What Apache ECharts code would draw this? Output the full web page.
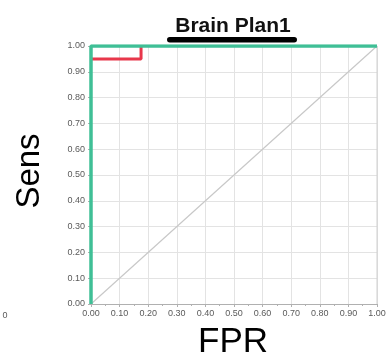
<!DOCTYPE html>
<html><head><meta charset="utf-8">
<script src="https://cdn.jsdelivr.net/npm/echarts@6/dist/echarts.min.js"></script>
<style>html,body{margin:0;padding:0;background:#fff}#c{width:389px;height:360px}</style>
</head><body><div id="c"></div>
<script>
const chartTitle = 'Brain Plan1';
const xName = 'FPR';
const yName = 'Sens';
const greenFPR = [0, 0, 1];
const greenSens = [0, 1, 1];
const redFPR = [0, 0.175, 0.175];
const redSens = [0.95, 0.95, 1];
const diagFPR = [0, 1];
const diagSens = [0, 1];

const pairs = (xs, ys) => xs.map((x, i) => [x, ys[i]]);
const chart = echarts.init(document.getElementById('c'), null, {renderer: 'canvas'});
const font = 'Liberation Sans, Arial, sans-serif';
chart.setOption({
  animation: false,
  grid: {left: 91, right: 12, top: 46, bottom: 56, containLabel: false},
  xAxis: {
    type: 'value', min: 0, max: 1, interval: 0.1,
    axisLine: {show: true, lineStyle: {color: '#b0b0b0', width: 1}},
    axisTick: {show: true, length: 3, lineStyle: {color: '#b0b0b0'}},
    minorTick: {show: true, splitNumber: 2, length: 2, lineStyle: {color: '#b0b0b0'}},
    axisLabel: {fontFamily: font, fontSize: 9, color: '#5a5a5a', margin: 5,
      formatter: v => v.toFixed(2)},
    splitLine: {show: true, lineStyle: {color: '#e3e3e3', width: 1}}
  },
  yAxis: {
    type: 'value', min: 0, max: 1, interval: 0.1,
    axisLine: {show: true, lineStyle: {color: '#b0b0b0', width: 1}},
    axisTick: {show: true, length: 3, lineStyle: {color: '#b0b0b0'}},
    axisLabel: {fontFamily: font, fontSize: 9, color: '#5a5a5a', margin: 6,
      formatter: v => v.toFixed(2)},
    splitLine: {show: true, lineStyle: {color: '#e3e3e3', width: 1}}
  },
  graphic: [
    {type: 'line', shape: {x1: 377, y1: 46, x2: 377, y2: 304}, style: {stroke: '#d0d0d0', lineWidth: 1}, z: 1},
    {type: 'text', x: 233, y: 26, style: {text: chartTitle, font: 'bold 21px ' + font, fill: '#111', align: 'center', verticalAlign: 'middle'}},
    {type: 'rect', shape: {x: 167, y: 37, width: 130, height: 5.5, r: 2.75}, style: {fill: '#000'}},
    {type: 'text', x: 30, y: 171, rotation: Math.PI / 2, style: {text: yName, font: '33px ' + font, fill: '#000', align: 'center', verticalAlign: 'middle'}},
    {type: 'text', x: 233, y: 342, style: {text: xName, font: '35px ' + font, fill: '#000', align: 'center', verticalAlign: 'middle'}},
    {type: 'text', x: 5, y: 316, style: {text: '0', font: '9px ' + font, fill: '#5a5a5a', align: 'center', verticalAlign: 'middle'}}
  ],
  series: [
    {type: 'line', data: pairs(diagFPR, diagSens), symbol: 'none', lineStyle: {color: '#c8c8c8', width: 1.2}, z: 2},
    {type: 'line', data: pairs(redFPR, redSens), symbol: 'none', lineStyle: {color: '#e8374b', width: 3}, z: 3},
    {type: 'line', data: pairs(greenFPR, greenSens), symbol: 'none', lineStyle: {color: '#3fbf96', width: 3.5}, z: 4}
  ]
});
</script></body></html>
